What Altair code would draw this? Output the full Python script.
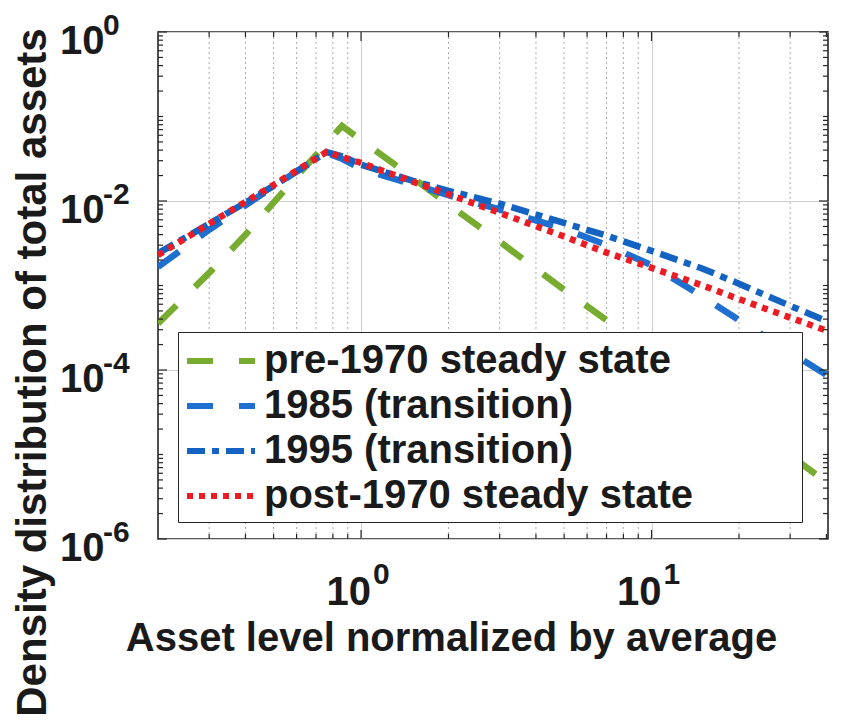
import altair as alt
import pandas as pd

# ---------------- data ----------------
asset = [0.2, 0.3, 0.4, 0.5, 0.6, 0.76, 0.86, 1.0, 1.5, 2, 3, 5, 7, 10, 15, 20, 30, 40.5]
pre1970 = [3.55e-4, 1.41e-3, 3.98e-3, 9.55e-3, 0.0195, 0.0479, 0.0776, 0.0525, 0.0191,
           9.12e-3, 3.31e-3, 8.9e-4, 3.89e-4, 1.58e-4, 5.75e-5, 2.75e-5, 9.8e-6, 4.57e-6]
trans1985 = [1.66e-3, 4.57e-3, 8.91e-3, 0.0148, 0.0224, 0.0372, 0.0316, 0.024, 0.0158,
             0.0117, 7.94e-3, 4.68e-3, 3.02e-3, 1.74e-3, 7.4e-4, 3.89e-4, 1.62e-4, 8.5e-5]
trans1995 = [2.4e-3, 5.37e-3, 9.55e-3, 0.0151, 0.0224, 0.038, 0.0339, 0.0269, 0.0174,
             0.0132, 9.3e-3, 5.5e-3, 3.89e-3, 2.57e-3, 1.58e-3, 1.05e-3, 5.75e-4, 3.72e-4]
post1970 = [2.29e-3, 5.37e-3, 9.77e-3, 0.0155, 0.0229, 0.038, 0.0331, 0.0282, 0.0170,
            0.0120, 7.24e-3, 3.80e-3, 2.45e-3, 1.62e-3, 1.0e-3, 6.9e-4, 4.17e-4, 2.88e-4]

series_names = ["pre-1970 steady state", "1985 (transition)",
                "1995 (transition)", "post-1970 steady state"]
series_values = [pre1970, trans1985, trans1995, post1970]

x_major = [1, 10]
x_exp = ["0", "1"]
y_major = [1, 1e-2, 1e-4, 1e-6]
y_exp = ["0", "-2", "-4", "-6"]

# ---------------- styling ----------------
colors = ["#77AC30", "#1F6FD0", "#1462C2", "#EC1C24"]
dashes = [[26, 26], [26, 26], [18, 7, 7, 7], [6, 6]]
FONT = "Liberation Sans"
TXT = "#1a1a1a"
W, H = 670, 507

rows = []
for name, vals in zip(series_names, series_values):
    for a, d in zip(asset, vals):
        rows.append({"asset": a, "density": d, "series": name})
df = pd.DataFrame(rows)

xscale = alt.Scale(type="log", domain=[0.2, 40.5], nice=False)
yscale = alt.Scale(type="log", domain=[1e-6, 1], nice=False)

xaxis = alt.Axis(
    values=x_major, grid=True, gridColor="#d0d0d0", gridWidth=1,
    labels=False, ticks=False, domain=False,
    title="Asset level normalized by average", titleFont=FONT, titleFontSize=40,
    titleFontWeight="bold", titleColor=TXT, titleX=293, titleY=111,
    titleAlign="center", titleBaseline="alphabetic")
yaxis = alt.Axis(
    values=y_major, grid=True, gridColor="#d0d0d0", gridWidth=1,
    labels=False, ticks=False, domain=False,
    title="Density distribution of total assets", titleFont=FONT, titleFontSize=42,
    titleFontWeight="bold", titleColor=TXT, titleAngle=270, titleX=-113, titleY=340,
    titleAlign="center", titleBaseline="alphabetic")

# tick positions
x_minor = [k * 10 ** e for e in (-1, 0, 1) for k in range(2, 10) if 0.2 < k * 10 ** e <= 40.5]
x_minor_grid = [v for v in x_minor if v < 40]
y_minor = [k * 10.0 ** e for e in range(-6, 0) for k in range(2, 10)] + [1e-1, 1e-3, 1e-5]

pad = "\u00a0" * 4 + "\u2800" * 2
legend = alt.Legend(
    title=None, orient="none", legendX=20, legendY=300,
    symbolType="M-1,0L2.4,0", symbolSize=1600, symbolStrokeWidth=6,
    labelFont=FONT, labelFontSize=40, labelFontWeight="bold", labelColor=TXT,
    labelLimit=900, labelOffset=34, rowPadding=2, padding=6,
    strokeColor="#262626", fillColor="white",
    labelExpr="datum.label + '" + pad + "'",
)

lines = alt.Chart(df).mark_line(strokeWidth=6.5, clip=True, strokeCap="butt").encode(
    x=alt.X("asset:Q", scale=xscale, axis=xaxis),
    y=alt.Y("density:Q", scale=yscale, axis=yaxis),
    color=alt.Color("series:N", scale=alt.Scale(domain=series_names, range=colors), legend=legend),
    strokeDash=alt.StrokeDash("series:N", scale=alt.Scale(domain=series_names, range=dashes), legend=legend),
)

grid_minor = alt.Chart(pd.DataFrame({"gx": x_minor_grid})).mark_rule(
    strokeDash=[2, 3], color="#aaaaaa", strokeWidth=1).encode(
    x=alt.X("gx:Q", scale=xscale, axis=xaxis))

TC = "#262626"
xt_minor = pd.DataFrame({"tx": x_minor})
xt_major = pd.DataFrame({"tx": x_major})
yt_minor = pd.DataFrame({"ty": y_minor})
yt_major = pd.DataFrame({"ty": y_major})


def xticks(data, ln):
    bot = alt.Chart(data).mark_rule(color=TC, strokeWidth=1.2).encode(
        x=alt.X("tx:Q", scale=xscale, axis=xaxis), y=alt.value(H - ln), y2=alt.value(H))
    top = alt.Chart(data).mark_rule(color=TC, strokeWidth=1.2).encode(
        x=alt.X("tx:Q", scale=xscale, axis=xaxis), y=alt.value(0), y2=alt.value(ln))
    return [bot, top]


def yticks(data, ln):
    left = alt.Chart(data).mark_rule(color=TC, strokeWidth=1.2).encode(
        y=alt.Y("ty:Q", scale=yscale, axis=yaxis), x=alt.value(0), x2=alt.value(ln))
    right = alt.Chart(data).mark_rule(color=TC, strokeWidth=1.2).encode(
        y=alt.Y("ty:Q", scale=yscale, axis=yaxis), x=alt.value(W - ln), x2=alt.value(W))
    return [left, right]


ticks = xticks(xt_minor, 5) + xticks(xt_major, 9) + yticks(yt_minor, 5) + yticks(yt_major, 9)

# tick labels 10^n drawn as base + superscript text
ylab = pd.DataFrame({"v": y_major, "e": y_exp, "b": ["10"] * len(y_major)})
xlab = pd.DataFrame({"v": x_major, "e": x_exp, "b": ["10"] * len(x_major)})

y_base = alt.Chart(ylab).mark_text(align="left", baseline="alphabetic", font=FONT, fontSize=40,
                                   fontWeight="bold", color=TXT, dy=22).encode(
    y=alt.Y("v:Q", scale=yscale, axis=yaxis), x=alt.value(-98), text="b:N")
y_sup = alt.Chart(ylab).mark_text(align="left", baseline="alphabetic", font=FONT, fontSize=30,
                                  fontWeight="bold", color=TXT, dy=3).encode(
    y=alt.Y("v:Q", scale=yscale, axis=yaxis), x=alt.value(-55), text="e:N")
x_base = alt.Chart(xlab).mark_text(align="right", baseline="alphabetic", font=FONT, fontSize=40,
                                   fontWeight="bold", color=TXT, dx=10).encode(
    x=alt.X("v:Q", scale=xscale, axis=xaxis), y=alt.value(H + 66), text="b:N")
x_sup = alt.Chart(xlab).mark_text(align="left", baseline="alphabetic", font=FONT, fontSize=30,
                                  fontWeight="bold", color=TXT, dx=12).encode(
    x=alt.X("v:Q", scale=xscale, axis=xaxis), y=alt.value(H + 45), text="e:N")

chart = alt.layer(
    grid_minor, lines, *ticks, y_base, y_sup, x_base, x_sup
).properties(
    width=W, height=H,
    autosize=alt.AutoSizeParams(type="none"),
    padding={"left": 150, "top": 24, "right": 25, "bottom": 180},
    background="white",
).configure_view(stroke="#262626", strokeWidth=1.6)

chart.save("out.html", embed_options={"renderer": "svg", "actions": False})
